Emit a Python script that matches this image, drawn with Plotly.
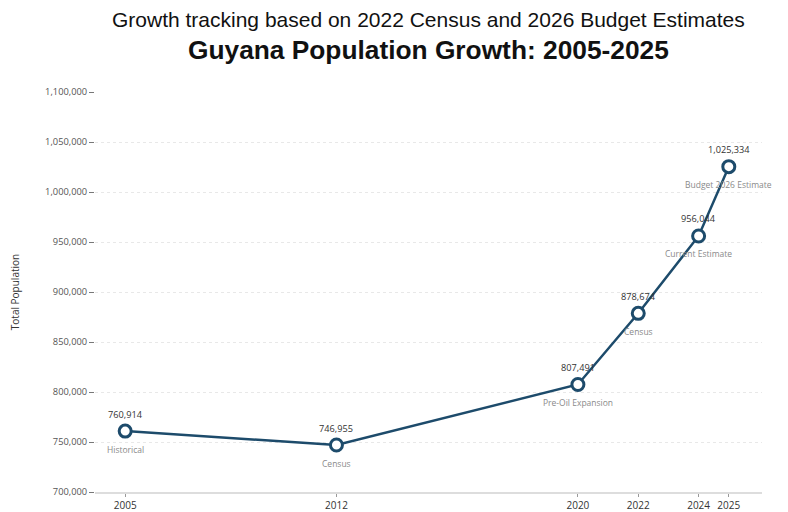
import plotly.graph_objects as go

years = [2005, 2012, 2020, 2022, 2024, 2025]
population = [760914, 746955, 807491, 878674, 956044, 1025334]
phase_labels = ["Historical", "Census", "Pre-Oil Expansion", "Census", "Current Estimate", "Budget 2026 Estimate"]
y_ticks = [700000, 750000, 800000, 850000, 900000, 950000, 1000000, 1050000, 1100000]

line_color = "#1d4b6b"

fig = go.Figure()
fig.add_trace(go.Scatter(
    x=years, y=population,
    mode="lines+markers",
    line=dict(color=line_color, width=2.5),
    marker=dict(size=12, color="white", line=dict(color=line_color, width=3)),
    cliponaxis=False,
    hoverinfo="x+y",
))

annotations = []
for yr, v, lab in zip(years, population, phase_labels):
    annotations.append(dict(x=yr, y=v, text=f"{v:,}", showarrow=False, yshift=17,
                            font=dict(family="Open Sans", size=9.2, color="#333333")))
    annotations.append(dict(x=yr, y=v, text=lab, showarrow=False, yshift=-18,
                            font=dict(family="Open Sans", size=8.5, color="#8a8a8a")))

annotations += [
    dict(text="Growth tracking based on 2022 Census and 2026 Budget Estimates",
         xref="paper", yref="paper", x=0.5, y=1, yshift=73, xanchor="center", yanchor="middle",
         showarrow=False, font=dict(family="Liberation Sans", size=21, color="#111111")),
    dict(text="<b>Guyana Population Growth: 2005-2025</b>",
         xref="paper", yref="paper", x=0.5, y=1, yshift=42, xanchor="center", yanchor="middle",
         showarrow=False, font=dict(family="Liberation Sans", size=26.3, color="#111111")),
]

fig.update_layout(
    width=772, height=504,
    margin=dict(l=87, r=18, t=84, b=20),
    paper_bgcolor="white", plot_bgcolor="white",
    showlegend=False,
    font=dict(family="Open Sans", color="#444444"),
    xaxis=dict(
        range=[2004.0, 2026.1], automargin=False,
        tickmode="array", tickvals=years, ticktext=[str(y) for y in years],
        showgrid=False, zeroline=False,
        showline=True, linecolor="#dddddd", linewidth=1.5,
        ticks="outside", ticklen=3, tickcolor="#999999",
        tickfont=dict(family="Open Sans", size=10, color="#333333"),
    ),
    yaxis=dict(
        range=[700000, 1100000], automargin=False,
        tickmode="array", tickvals=y_ticks, ticktext=[f"{v:,}" for v in y_ticks],
        showgrid=True, gridcolor="#e8e8e8", griddash="dot", gridwidth=1,
        zeroline=False, showline=False,
        ticks="outside", ticklen=5, tickcolor="#777777",
        tickfont=dict(family="Open Sans", size=9.3, color="#555555"),
        title=dict(text="Total Population", font=dict(family="Open Sans", size=10, color="#333333"), standoff=26),
    ),
    annotations=annotations,
)

fig.write_html("out.html")
